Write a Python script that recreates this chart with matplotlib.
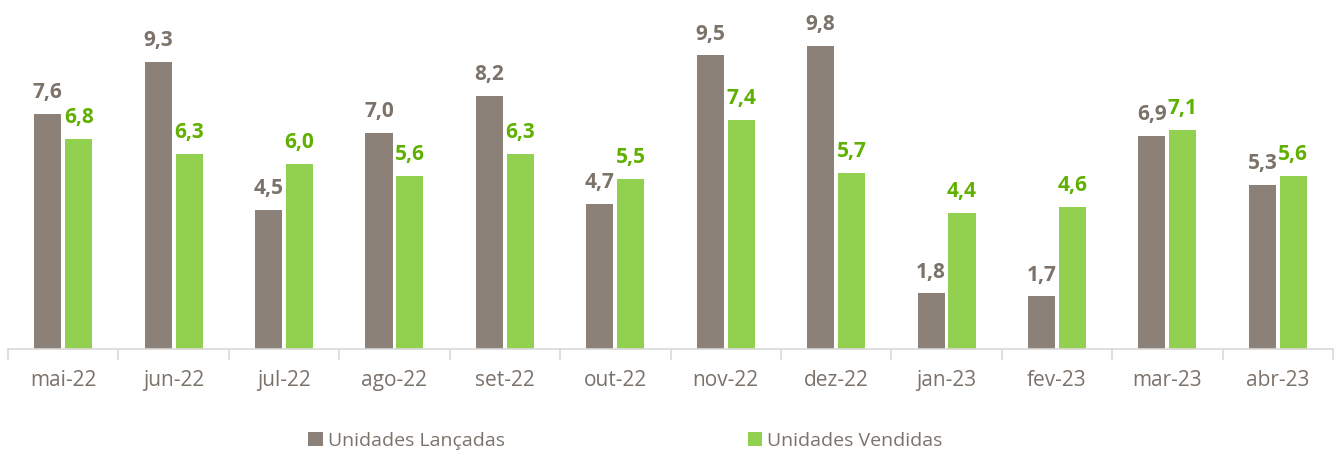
import matplotlib.pyplot as plt
import numpy as np

plt.rcParams['font.family'] = ['Open Sans', 'DejaVu Sans']

meses = ['mai-22', 'jun-22', 'jul-22', 'ago-22', 'set-22', 'out-22',
         'nov-22', 'dez-22', 'jan-23', 'fev-23', 'mar-23', 'abr-23']
lancadas = [7.6, 9.3, 4.5, 7.0, 8.2, 4.7, 9.5, 9.8, 1.8, 1.7, 6.9, 5.3]
vendidas = [6.8, 6.3, 6.0, 5.6, 6.3, 5.5, 7.4, 5.7, 4.4, 4.6, 7.1, 5.6]

cinza = '#8B8178'
verde = '#92D050'
verde_txt = '#5FB000'
txt = '#7B726A'

fig = plt.figure(figsize=(13.36, 4.55), dpi=100)
ax = fig.add_axes([8 / 1336, 1 - 349 / 455, 1325 / 1336, 340 / 455])

x = np.arange(len(meses))
w = 0.245
off = 0.14
b1 = ax.bar(x - off, lancadas, w, color=cinza, label='Unidades Lançadas')
b2 = ax.bar(x + off, vendidas, w, color=verde, label='Unidades Vendidas')

for xi, v in zip(x, lancadas):
    ax.text(xi - off, v + 0.35, f'{v:.1f}'.replace('.', ','), ha='center', va='bottom',
            fontsize=15, fontweight='bold', color=txt)
for xi, v in zip(x, vendidas):
    ax.text(xi + off, v + 0.35, f'{v:.1f}'.replace('.', ','), ha='center', va='bottom',
            fontsize=15, fontweight='bold', color=verde_txt)

ax.set_xlim(-0.5, len(meses) - 0.5)
ax.set_ylim(0, 11)
ax.set_xticks(x)
ax.set_xticklabels(meses, fontsize=15, color=txt)
ax.set_xticks(np.arange(-0.5, len(meses)), minor=True)
ax.tick_params(axis='x', which='major', length=0, pad=15)
ax.tick_params(axis='x', which='minor', length=8, color='#D9D9D9', width=1.2)
ax.set_yticks([])
for s in ['top', 'left', 'right']:
    ax.spines[s].set_visible(False)
ax.spines['bottom'].set_color('#D9D9D9')
ax.spines['bottom'].set_linewidth(1.2)

leg = fig.legend(handles=[b1, b2], loc='center', bbox_to_anchor=(0.468, 1 - 441 / 455),
                 ncol=2, frameon=False, fontsize=14, columnspacing=12.5,
                 handlelength=0.75, handleheight=0.75, handletextpad=0.25)
for t in leg.get_texts():
    t.set_color(txt)

fig.savefig('out.png', dpi=100)
